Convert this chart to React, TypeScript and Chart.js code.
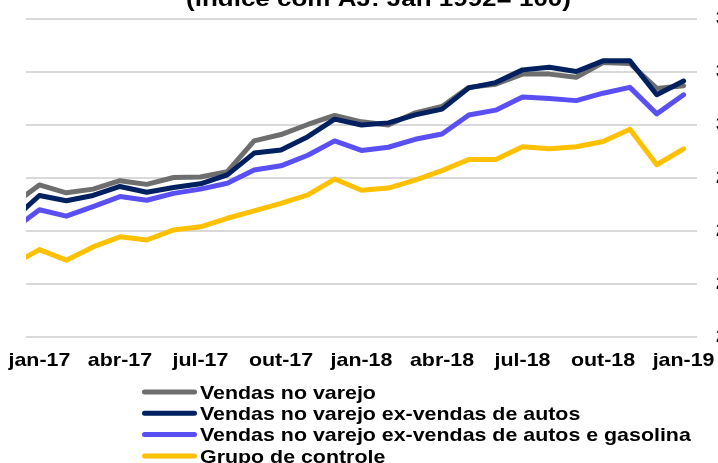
import React, { useEffect, useRef } from "react";
import { Chart, registerables } from "chart.js";

Chart.register(...registerables);

// Months plotted (dez-16 is only partly visible, clipped at the left edge)
const months = [
  "dez-16", "jan-17", "fev-17", "mar-17", "abr-17", "mai-17", "jun-17", "jul-17", "ago-17", "set-17",
  "out-17", "nov-17", "dez-17", "jan-18", "fev-18", "mar-18", "abr-18", "mai-18", "jun-18", "jul-18",
  "ago-18", "set-18", "out-18", "nov-18", "dez-18", "jan-19",
];
const tickLabels = ["jan-17", "abr-17", "jul-17", "out-17", "jan-18", "abr-18", "jul-18", "out-18", "jan-19"];
const yTicks = [260, 270, 280, 290, 300, 310, 320];

const varejo = [
  284.9, 288.7, 287.2, 287.9, 289.5, 288.8, 290.1, 290.2, 291.2, 297.0,
  298.2, 300.1, 301.8, 300.6, 300.0, 302.3, 303.5, 307.1, 307.7, 309.6,
  309.6, 309.0, 311.8, 311.6, 306.9, 307.4,
];
const exAutos = [
  282.1, 286.7, 285.7, 286.7, 288.4, 287.3, 288.2, 288.9, 290.6, 294.7,
  295.3, 297.8, 301.1, 300.0, 300.4, 301.9, 303.0, 307.0, 308.0, 310.4,
  310.9, 310.1, 312.1, 312.1, 305.7, 308.3,
];
const exAutosGasolina = [
  280.2, 284.0, 282.8, 284.6, 286.5, 285.8, 287.1, 287.9, 289.0, 291.5,
  292.3, 294.3, 297.0, 295.2, 295.8, 297.3, 298.3, 301.9, 302.8, 305.3,
  305.0, 304.6, 306.0, 307.1, 302.1, 305.7,
];
const controle = [
  273.6, 276.5, 274.5, 277.0, 278.9, 278.3, 280.2, 280.8, 282.4, 283.8,
  285.2, 286.8, 289.8, 287.7, 288.1, 289.6, 291.4, 293.5, 293.5, 295.9,
  295.5, 295.9, 296.9, 299.2, 292.5, 295.5,
];

const seriesNames = [
  "Vendas no varejo",
  "Vendas no varejo ex-vendas de autos",
  "Vendas no varejo ex-vendas de autos e gasolina",
  "Grupo de controle",
];
const titleText = "(índice com AJ: Jan 1992= 100)";

export default function App() {
  const ref = useRef<HTMLCanvasElement>(null);

  useEffect(() => {
    const prevOverflow = document.body.style.overflow;
    document.body.style.overflow = "hidden";
    const FAMILY = '"Liberation Sans", Arial, sans-serif';
    const colors = ["#6e6e6e", "#002060", "#5a4ff2", "#ffc000"];
    const orders = [1, 0, 2, 3];
    const series = [varejo, exAutos, exAutosGasolina, controle];
    const xs = months.map((_, i) => i - 1);

    const datasets = series.map((vals, k) => ({
      label: seriesNames[k],
      data: vals.map((v, i) => ({ x: xs[i], y: v })),
      borderColor: colors[k],
      backgroundColor: colors[k],
      borderWidth: 5,
      pointRadius: 0,
      tension: 0,
      borderCapStyle: "round" as const,
      borderJoinStyle: "round" as const,
      clip: 0,
      order: orders[k],
      fill: false,
    }));

    const drawStretched = (ctx: CanvasRenderingContext2D, text: string, x: number, y: number, size: number, align: CanvasTextAlign) => {
      ctx.save();
      ctx.translate(x, y);
      ctx.scale(1.15, 1);
      ctx.font = `bold ${size}px ${FAMILY}`;
      ctx.textAlign = align;
      ctx.textBaseline = "alphabetic";
      ctx.fillStyle = "#000";
      ctx.fillText(text, 0, 0);
      ctx.restore();
    };

    const overlay = {
      id: "overlay",
      afterDraw(chart: any) {
        const ctx: CanvasRenderingContext2D = chart.ctx;
        const xScale = chart.scales.x;
        // x tick labels
        tickLabels.forEach((lab) => {
          const v = months.indexOf(lab) - 1;
          const px = xScale.getPixelForValue(v);
          drawStretched(ctx, lab, px, 366, 18.6, "center");
        });
        // title (mostly above the visible frame)
        drawStretched(ctx, titleText, 378.5, 6, 22.6, "center");
        // legend
        seriesNames.forEach((name, k) => {
          const y = 392 + k * 21.3;
          ctx.save();
          ctx.strokeStyle = colors[k];
          ctx.lineWidth = 5;
          ctx.lineCap = "round";
          ctx.beginPath();
          ctx.moveTo(144.5, y);
          ctx.lineTo(194.5, y);
          ctx.stroke();
          ctx.restore();
          drawStretched(ctx, name, 200, y + 6.7, 18.6, "left");
        });
      },
    };

    const chart = new Chart(ref.current as HTMLCanvasElement, {
      type: "line",
      data: { datasets: datasets as any },
      options: {
        responsive: false,
        animation: false,
        devicePixelRatio: 1,
        layout: { padding: { left: 26, top: 19, right: 0, bottom: 126 } },
        plugins: {
          legend: { display: false },
          title: { display: false },
          tooltip: { enabled: false },
        },
        scales: {
          x: { type: "linear", min: -0.5, max: 24.5, display: false },
          y: {
            position: "right",
            min: 260,
            max: 320,
            afterBuildTicks: (s: any) => {
              s.ticks = yTicks.map((v) => ({ value: v }));
            },
            afterFit: (s: any) => {
              s.width = 21;
              s.paddingTop = 0;
              s.paddingBottom = 0;
            },
            grid: { color: "#d9d9d9", lineWidth: 2, drawTicks: false },
            border: { display: false },
            ticks: {
              padding: 19,
              color: "#000",
              font: { family: FAMILY, size: 19, weight: "bold" },
            },
          },
        },
      } as any,
      plugins: [overlay],
    });

    return () => {
      chart.destroy();
      document.body.style.overflow = prevOverflow;
    };
  }, []);

  return (
    <div
      style={{
        position: "fixed",
        left: 0,
        top: 0,
        width: 718,
        height: 463,
        overflow: "hidden",
        background: "#fff",
      }}
    >
      <canvas ref={ref} width={718} height={463} style={{ display: "block", width: 718, height: 463 }} />
    </div>
  );
}
